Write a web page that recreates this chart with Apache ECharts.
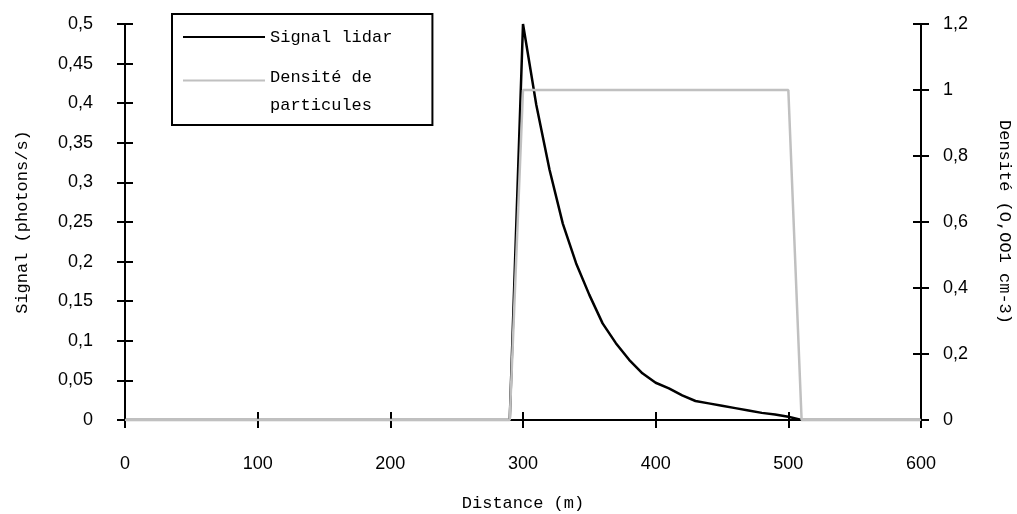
<!DOCTYPE html>
<html>
<head>
<meta charset="utf-8">
<script src="https://cdn.jsdelivr.net/npm/echarts@6/dist/echarts.min.js"></script>
<style>
  html, body { margin: 0; padding: 0; background: #fff; }
  #chart { width: 1017px; height: 514px; }
</style>
</head>
<body>
<div id="chart"></div>
<script>
// distance (m) and lidar signal (photons/s)
var signalDist = [0, 290, 300, 310, 320, 330, 340, 350, 360, 370, 380, 390, 400, 410, 420, 430, 440, 450, 460, 470, 480, 490, 500, 510, 600];
var signalVals = [0, 0, 0.5, 0.398, 0.316, 0.248, 0.198, 0.158, 0.122, 0.097, 0.076, 0.059, 0.047, 0.040, 0.031, 0.024, 0.021, 0.018, 0.015, 0.012, 0.009, 0.007, 0.004, 0, 0];
// particle density (0,001 cm-3)
var densityDist = [0, 290, 300, 500, 510, 600];
var densityVals = [0, 0, 1, 1, 0, 0];

var monoFont = 'Liberation Mono';
var sansFont = 'Liberation Sans';

function pairs(xs, ys){
  var out = [];
  for(var i=0;i<xs.length;i++){
    out.push([xs[i], ys[i]]);
  }
  return out;
}
function comma(v){
  return String(v).replace('.', ',');
}

var myChart = echarts.init(document.getElementById('chart'));

var tickLine = { color: '#000', width: 2 };
var axisLine = { show: true, onZero: false, lineStyle: { color: '#000', width: 2 } };
var nameStyle = { color: '#000', fontFamily: monoFont, fontSize: 17 };
var gridBox = { left: 125, right: 96, top: 24, bottom: 94, containLabel: false, outerBoundsMode: 'none' };

// second grid on top of the first one only carries the inner half of the ticks
function innerAxis(min, max, step, pos){
  return {
    type: 'value',
    gridIndex: 1,
    min: min, max: max, interval: step,
    position: pos,
    axisLine: { show: false, onZero: false },
    axisTick: { show: true, inside: true, length: 8, lineStyle: tickLine },
    axisLabel: { show: false },
    splitLine: { show: false }
  };
}

var option = {
  animation: false,
  backgroundColor: '#fff',
  grid: [gridBox, gridBox],
  legend: {
    orient: 'vertical',
    left: 172,
    top: 14,
    padding: [9, 40, 6, 11],
    itemGap: 12,
    itemWidth: 82,
    itemHeight: 28,
    borderColor: '#000',
    borderWidth: 2,
    itemStyle: { borderWidth: 0 },
    textStyle: { color: '#000', fontFamily: monoFont, fontSize: 17, lineHeight: 28 },
    formatter: function(name){
      if(name == 'Densité de particules'){
        return 'Densité de\nparticules';
      }
      return name;
    },
    data: [
      { name: 'Signal lidar', icon: 'path://M0,0L0.01,0L0,0.01Z M0,12.8L100,12.8L100,15.2L0,15.2Z M0,28L0.01,28L0,27.99Z' },
      { name: 'Densité de particules', icon: 'path://M0,0.2L100,0.2L100,2.6L0,2.6Z M0,28L0.01,28L0,27.99Z' }
    ]
  },
  xAxis: [{
    type: 'value',
    gridIndex: 0,
    min: 0, max: 600, interval: 100,
    position: 'bottom',
    name: 'Distance (m)',
    nameLocation: 'middle',
    nameGap: 75,
    nameTextStyle: nameStyle,
    axisLine: axisLine,
    axisTick: { show: true, inside: false, length: 8, lineStyle: tickLine },
    axisLabel: { margin: 35, color: '#000', fontFamily: sansFont, fontSize: 18 },
    splitLine: { show: false }
  },
  innerAxis(0, 600, 100, 'bottom')
  ],
  yAxis: [{
    type: 'value',
    gridIndex: 0,
    min: 0, max: 0.5, interval: 0.05,
    position: 'left',
    name: 'Signal (photons/s)',
    nameLocation: 'middle',
    nameGap: 94,
    nameTextStyle: nameStyle,
    axisLine: axisLine,
    axisTick: { show: true, inside: false, length: 8, lineStyle: tickLine },
    axisLabel: { margin: 32, color: '#000', fontFamily: sansFont, fontSize: 18, formatter: comma },
    splitLine: { show: false }
  }, {
    type: 'value',
    gridIndex: 0,
    min: 0, max: 1.2, interval: 0.2,
    position: 'right',
    name: 'Densité (O,OO1 cm-3)',
    nameLocation: 'middle',
    nameGap: 75,
    nameRotate: -90,
    nameTextStyle: nameStyle,
    axisLine: axisLine,
    axisTick: { show: true, inside: false, length: 8, lineStyle: tickLine },
    axisLabel: { margin: 22, color: '#000', fontFamily: sansFont, fontSize: 18, formatter: comma },
    splitLine: { show: false }
  },
  innerAxis(0, 0.5, 0.05, 'left'),
  innerAxis(0, 1.2, 0.2, 'right')
  ],
  series: [
    {
      name: 'Signal lidar',
      type: 'line',
      xAxisIndex: 0,
      yAxisIndex: 0,
      symbol: 'none',
      color: '#000',
      itemStyle: { color: '#000' },
      lineStyle: { color: '#000', width: 2.5 },
      data: pairs(signalDist, signalVals)
    },
    {
      name: 'Densité de particules',
      type: 'line',
      xAxisIndex: 0,
      yAxisIndex: 1,
      symbol: 'none',
      color: '#c0c0c0',
      itemStyle: { color: '#c0c0c0' },
      lineStyle: { color: '#c0c0c0', width: 2.5 },
      data: pairs(densityDist, densityVals)
    }
  ]
};
myChart.setOption(option);
</script>
</body>
</html>
